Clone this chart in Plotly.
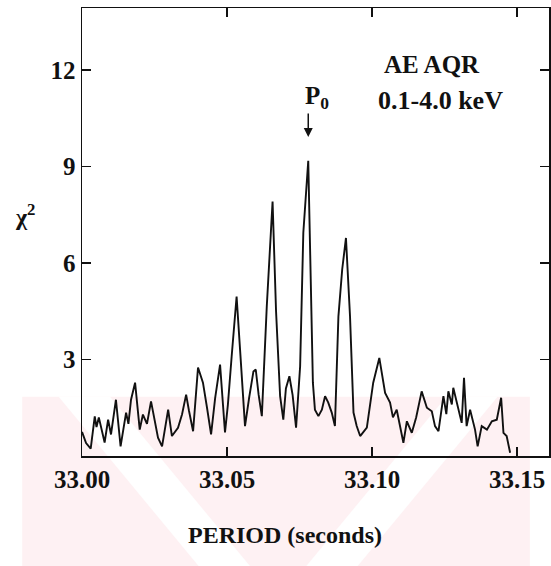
import plotly.graph_objects as go

# Period (s) and chi^2 values
period = [
    33.0000, 33.0014, 33.0030, 33.0044, 33.0050, 33.0058, 33.0078, 33.0090, 33.0100, 33.0117,
    33.0133, 33.0152, 33.0160, 33.0169, 33.0183, 33.0199, 33.0210, 33.0224, 33.0238, 33.0262,
    33.0276, 33.0297, 33.0310, 33.0331, 33.0345, 33.0359, 33.0369, 33.0383, 33.0400, 33.0417,
    33.0431, 33.0445, 33.0459, 33.0476, 33.0493, 33.0503, 33.0516, 33.0533, 33.0545, 33.0562,
    33.0576, 33.0591, 33.0599, 33.0609, 33.0620, 33.0637, 33.0657, 33.0669, 33.0683, 33.0694,
    33.0703, 33.0715, 33.0726, 33.0738, 33.0752, 33.0763, 33.0780, 33.0788, 33.0796, 33.0803,
    33.0815, 33.0827, 33.0838, 33.0849, 33.0861, 33.0872, 33.0884, 33.0897, 33.0910, 33.0924,
    33.0936, 33.0947, 33.0959, 33.0982, 33.1004, 33.1025, 33.1045, 33.1062, 33.1072, 33.1085,
    33.1097, 33.1108, 33.1120, 33.1137, 33.1152, 33.1171, 33.1189, 33.1206, 33.1217, 33.1229,
    33.1246, 33.1256, 33.1263, 33.1275, 33.1280, 33.1298, 33.1309, 33.1317, 33.1326, 33.1338,
    33.1355, 33.1364, 33.1378, 33.1396, 33.1413, 33.1430, 33.1445, 33.1453, 33.1464, 33.1476,
]
chi2 = [
    0.75, 0.40, 0.23, 1.23, 0.90, 1.20, 0.42, 1.13, 0.67, 1.75,
    0.30, 1.35, 1.00, 1.75, 2.28, 0.82, 1.29, 1.00, 1.70, 0.57,
    0.30, 1.44, 0.62, 0.88, 1.30, 1.91, 1.40, 0.77, 2.75, 2.28,
    1.50, 0.67, 1.80, 2.84, 0.73, 1.60, 3.10, 4.96, 3.30, 0.93,
    1.80, 2.63, 2.69, 1.90, 1.24, 4.65, 7.91, 4.50, 1.86, 1.13,
    2.10, 2.48, 1.90, 0.88, 2.79, 6.94, 9.18, 6.00, 2.28, 1.44,
    1.24, 1.44, 1.86, 1.66, 1.35, 0.93, 4.34, 5.80, 6.78, 4.34,
    1.35, 0.93, 0.62, 0.88, 2.28, 3.05, 1.96, 1.66, 1.20, 1.44,
    0.90, 0.41, 1.08, 0.72, 1.20, 2.01, 1.50, 1.39, 0.93, 0.77,
    1.86, 1.30, 2.01, 1.60, 2.12, 1.44, 1.03, 2.43, 0.93, 1.44,
    0.82, 0.30, 0.93, 0.82, 1.08, 1.13, 1.81, 0.72, 0.62, 0.10,
]

x_ticks = [33.00, 33.05, 33.10, 33.15]
x_tick_labels = ["33.00", "33.05", "33.10", "33.15"]
y_ticks = [3, 6, 9, 12]
y_tick_labels = ["3", "6", "9", "12"]

P0 = 33.078

SERIF = "Liberation Serif"

fig = go.Figure()

fig.add_trace(go.Scatter(
    x=period, y=chi2, mode="lines",
    line=dict(color="#111111", width=1.9),
    showlegend=False, hoverinfo="skip",
))

# faint pink watermark in the lower part of the page (paper coords)
pink = "#fef1f3"
shapes = [
    dict(type="path", xref="paper", yref="paper", layer="below",
         path="M -0.128,0.132 L 0.959,0.132 L 0.959,-0.246 L -0.128,-0.246 Z",
         fillcolor=pink, line=dict(width=0)),
    dict(type="path", xref="paper", yref="paper", layer="below",
         path="M -0.05,0.132 L 0.06,0.132 L 0.36,-0.246 L 0.25,-0.246 Z",
         fillcolor="white", line=dict(width=0)),
    dict(type="path", xref="paper", yref="paper", layer="below",
         path="M 0.78,0.132 L 0.89,0.132 L 0.59,-0.246 L 0.48,-0.246 Z",
         fillcolor="white", line=dict(width=0)),
]

axis_common = dict(
    showgrid=False, zeroline=False, showline=True, linecolor="#111111",
    linewidth=1.5, mirror="ticks", ticks="inside", ticklen=9,
    tickwidth=1.5, tickcolor="#111111", automargin=False,
    tickfont=dict(family=SERIF, size=25, color="#111111", weight="bold"),
)

fig.update_layout(
    width=551, height=566,
    margin=dict(l=82, r=2, t=8, b=110, autoexpand=False),
    paper_bgcolor="white", plot_bgcolor="rgba(0,0,0,0)",
    xaxis=dict(range=[33.0, 33.161], tickvals=x_ticks, ticktext=x_tick_labels,
               **axis_common),
    yaxis=dict(range=[0, 13.93], tickvals=y_ticks, ticktext=y_tick_labels,
               **axis_common),
    shapes=shapes,
    annotations=[
        dict(text="AE AQR", xref="paper", yref="paper", x=0.7495, y=0.8728,
             showarrow=False, xanchor="center", yanchor="middle",
             font=dict(family=SERIF, size=25, color="#111111", weight="bold")),
        dict(text="0.1-4.0 keV", xref="paper", yref="paper", x=0.7687, y=0.7946,
             showarrow=False, xanchor="center", yanchor="middle",
             font=dict(family=SERIF, size=26, color="#111111", weight="bold")),
        dict(text="P<sub>0</sub>", xref="paper", yref="paper", x=0.503, y=0.80,
             showarrow=False, xanchor="center", yanchor="middle",
             font=dict(family=SERIF, size=25, color="#111111", weight="bold")),
        dict(text="", xref="x", yref="y", x=P0, y=9.92, ax=0, ay=-25,
             showarrow=True, arrowhead=2, arrowsize=1.2, arrowwidth=1.5,
             arrowcolor="#111111"),
        dict(text="χ<sup>2</sup>", xref="paper", yref="paper", x=-0.122, y=0.538,
             showarrow=False, xanchor="center", yanchor="middle",
             font=dict(family=SERIF, size=24, color="#111111", weight="bold")),
        dict(text="PERIOD (seconds)", xref="paper", yref="paper", x=0.4347, y=-0.176,
             showarrow=False, xanchor="center", yanchor="middle",
             font=dict(family=SERIF, size=24, color="#111111", weight="bold")),
    ],
)

fig.write_html(
    "out.html",
    config={"displayModeBar": False, "staticPlot": True},
    post_script="document.body.style.margin='0';document.body.style.padding='0';"
                "document.body.style.overflow='hidden';"
                "document.documentElement.style.overflow='hidden';",
)
